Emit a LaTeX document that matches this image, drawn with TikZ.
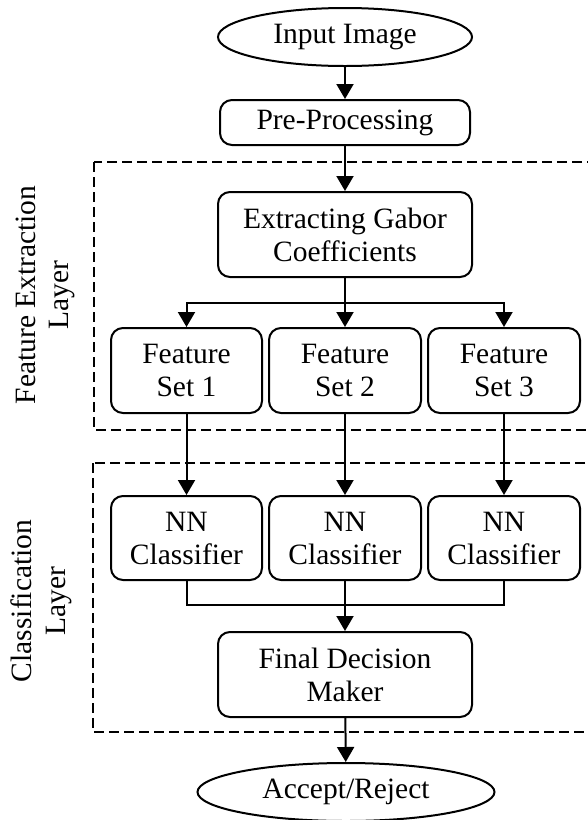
\documentclass[tikz,border=0pt]{standalone}
\usepackage{fontspec}
\setmainfont{Liberation Serif}
\usetikzlibrary{shapes.geometric,arrows.meta}
\begin{document}
\begin{tikzpicture}[x=1pt,y=-1pt,
  every node/.style={font=\fontsize{29.5}{33}\selectfont, inner sep=0pt},
  stepbox/.style={draw, line width=2pt, rounded corners=12pt, align=center},
  termbox/.style={draw, line width=2pt, ellipse, align=center},
  conn/.style={line width=2pt},
  arr/.style={conn, -{Triangle[length=15pt,width=17pt]}},
  layerbox/.style={draw, line width=2pt, dash pattern=on 10pt off 5pt},
  lbl/.style={rotate=90, anchor=base}]
\useasboundingbox (0,0) rectangle (588,820);
\clip (0,0) rectangle (588,820);
% layers
\draw[layerbox] (94,162) rectangle (610,430);
\draw[layerbox] (93,463) rectangle (610,732);
\node[lbl] (lfe1) at (35,295) {Feature Extraction};
\node[lbl] (lfe2) at (68,295) {Layer};
\node[lbl] (lcl1) at (31,601) {Classification};
\node[lbl] (lcl2) at (65,601) {Layer};
% nodes
\node[termbox, minimum width=254pt, minimum height=58pt] (in) at (345,37) {Input Image};
\node[stepbox, minimum width=250pt, minimum height=45pt] (pre) at (345,122.5) {Pre-Processing};
\node[stepbox, minimum width=254pt, minimum height=85pt] (ext) at (345,234.5) {Extracting Gabor\\Coefficients};
\node[stepbox, minimum width=151pt, minimum height=85pt] (fs1) at (186.5,370.5) {Feature\\Set 1};
\node[stepbox, minimum width=152pt, minimum height=85pt] (fs2) at (345,370.5) {Feature\\Set 2};
\node[stepbox, minimum width=152pt, minimum height=85pt] (fs3) at (504,370.5) {Feature\\Set 3};
\node[stepbox, minimum width=151pt, minimum height=84pt] (nn1) at (186.5,538) {NN\\Classifier};
\node[stepbox, minimum width=152pt, minimum height=84pt] (nn2) at (345,538) {NN\\Classifier};
\node[stepbox, minimum width=152pt, minimum height=84pt] (nn3) at (504,538) {NN\\Classifier};
\node[stepbox, minimum width=254pt, minimum height=85pt] (fin) at (345,674.5) {Final Decision\\Maker};
\node[termbox, minimum width=297pt, minimum height=58pt] (acc) at (346,792) {Accept/Reject};
% connectors
\coordinate (split) at (345,303);
\coordinate (merge) at (345,605);
\draw[arr] (in) -- (pre);
\draw[arr] (pre) -- (ext);
\draw[arr] (ext) -- (fs2);
\draw[arr] (split) -| (fs1);
\draw[arr] (split) -| (fs3);
\draw[arr] (fs1) -- (nn1);
\draw[arr] (fs2) -- (nn2);
\draw[arr] (fs3) -- (nn3);
\draw[conn] (nn1.south) |- (merge);
\draw[conn] (nn3.south) |- (merge);
\draw[arr] (nn2) -- (fin);
\draw[arr] (fin) -- (acc);
\end{tikzpicture}
\end{document}
